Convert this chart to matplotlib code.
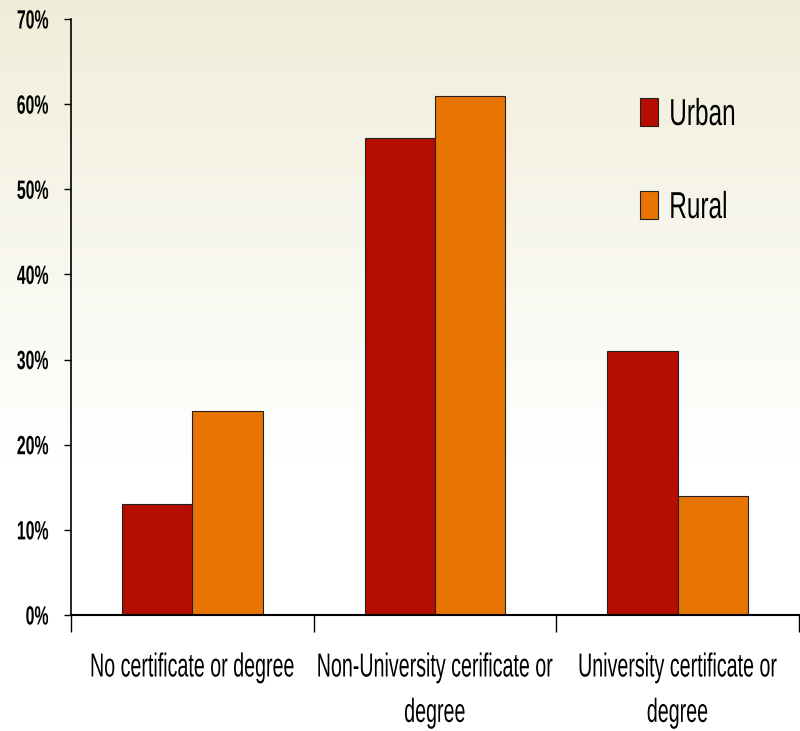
import numpy as np
import matplotlib
matplotlib.use("Agg")
import matplotlib.pyplot as plt
from matplotlib.patheffects import AbstractPathEffect
from matplotlib.transforms import Affine2D

categories = ["No certificate or degree", "Non-University cerificate or\ndegree", "University certificate or\ndegree"]
series_names = ["Urban", "Rural"]
urban = [13, 56, 31]
rural = [24, 61, 14]
yticks = [0, 10, 20, 30, 40, 50, 60, 70]
colors = ["#b50e00", "#e87502"]

plt.rcParams["font.family"] = ["Liberation Sans", "DejaVu Sans"]


class Squeeze(AbstractPathEffect):
    # narrow the glyphs horizontally (the original uses a condensed face)
    def __init__(self, sx=0.6, anchor="center"):
        super().__init__()
        self.sx = sx
        self.anchor = anchor

    def draw_path(self, renderer, gc, tpath, affine, rgbFace=None):
        xs = tpath.vertices[:, 0]
        if len(xs) == 0:
            return
        if self.anchor == "center":
            cx = (xs.min() + xs.max()) / 2
        elif self.anchor == "right":
            cx = xs.max()
        else:
            cx = 0
        t = Affine2D().translate(-cx, 0).scale(self.sx, 1).translate(cx, 0) + affine
        renderer.draw_path(gc, tpath, t, rgbFace)


fig = plt.figure(figsize=(8, 7.31), dpi=100)

# background: pale beige at top fading to white
bg = fig.add_axes([0, 0, 1, 1], zorder=-10)
grad = np.linspace(0, 1, 256)[:, None]
top = np.array([0.94, 0.93, 0.85])
bot = np.array([1.0, 1.0, 1.0])
w = np.clip(grad * 1.6, 0, 1)
img = top * (1 - w[..., None]) + bot * w[..., None]
img = np.repeat(img, 2, axis=1)
bg.imshow(img, aspect="auto", extent=[0, 1, 0, 1])
bg.axis("off")

ax = fig.add_axes([71 / 800, 1 - 615 / 731, 728 / 800, 596 / 731])
ax.patch.set_alpha(0)

x = np.arange(len(categories))
bw = 0.29
ax.bar(x - bw / 2, urban, bw, color=colors[0], edgecolor="#222222", linewidth=0.8, label=series_names[0])
ax.bar(x + bw / 2, rural, bw, color=colors[1], edgecolor="#222222", linewidth=0.8, label=series_names[1])

ax.set_xlim(-0.5, len(categories) - 0.5)
ax.set_ylim(0, 70)
ax.set_yticks(yticks)
ax.set_yticklabels([f"{v}%" for v in yticks], fontsize=19, fontweight="bold")
ax.set_xticks(np.arange(len(categories) + 1) - 0.5)
ax.set_xticklabels([])
ax.set_xticks(x, minor=True)
ax.set_xticklabels(categories, minor=True, fontsize=24, linespacing=1.6)
ax.tick_params(axis="x", which="major", length=12, width=1, direction="out")
ax.tick_params(axis="x", which="minor", length=0, pad=27)
ax.tick_params(axis="y", length=5, width=1, pad=11)
for s in ["top", "right"]:
    ax.spines[s].set_visible(False)
ax.spines["left"].set_linewidth(1.2)
ax.spines["bottom"].set_linewidth(1.5)

for t in ax.get_yticklabels():
    t.set_path_effects([Squeeze(0.6, "right")])
for t in ax.get_xticklabels(minor=True):
    t.set_path_effects([Squeeze(0.59, "center")])

leg = ax.legend(loc="upper left", bbox_to_anchor=(640 / 800, 1 - 97 / 731), bbox_transform=fig.transFigure,
                frameon=False, fontsize=27, borderpad=0, borderaxespad=0,
                handlelength=0.48, handleheight=0.75, handletextpad=0.3, labelspacing=1.52)
for t in leg.get_texts():
    t.set_path_effects([Squeeze(0.65, "left")])

fig.savefig("out.png", dpi=100)
